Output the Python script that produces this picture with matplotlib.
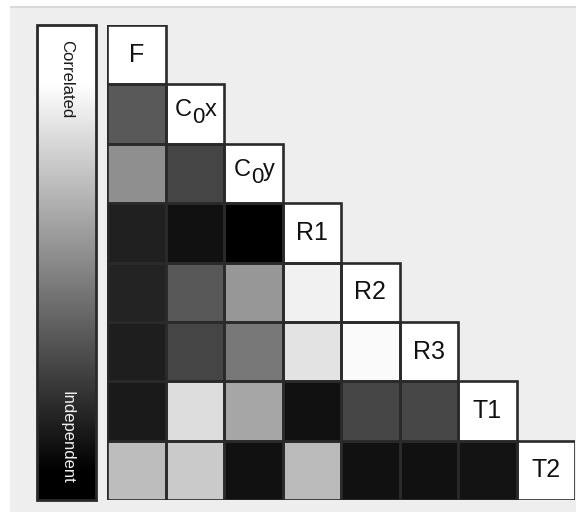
import numpy as np
import matplotlib
matplotlib.use("Agg")
import matplotlib.pyplot as plt
from matplotlib.colors import LinearSegmentedColormap, Normalize
from matplotlib.cm import ScalarMappable
from matplotlib.patches import Rectangle
from matplotlib.transforms import offset_copy

plt.rcParams['font.family'] = ['Liberation Sans', 'DejaVu Sans']

# Parameter names along the diagonal: (main text, subscript, trailing text)
labels = [("F", "", ""), ("C", "0", "x"), ("C", "0", "y"), ("R1", "", ""),
          ("R2", "", ""), ("R3", "", ""), ("T1", "", ""), ("T2", "", "")]

# Lower-triangle correlation shading (0 = correlated/black ... 1 = independent/white)
row_c0x = [0.35]
row_c0y = [0.56, 0.27]
row_r1 = [0.125, 0.067, 0.0]
row_r2 = [0.14, 0.34, 0.59, 0.945]
row_r3 = [0.12, 0.27, 0.47, 0.89, 0.98]
row_t1 = [0.105, 0.865, 0.65, 0.07, 0.275, 0.28]
row_t2 = [0.74, 0.79, 0.067, 0.73, 0.07, 0.07, 0.075]

bar_top_label = "Correlated"
bar_bottom_label = "Independent"

rows = [[], row_c0x, row_c0y, row_r1, row_r2, row_r3, row_t1, row_t2]
n = len(labels)

W, H = 576, 512
fig = plt.figure(figsize=(W / 100, H / 100), dpi=100, facecolor="white")

# panel background
fig.patches.append(Rectangle((10 / W, 0), 1 - 10 / W, 1 - 8 / H,
                             transform=fig.transFigure, facecolor="#eeeeee",
                             edgecolor="none", zorder=-10))
fig.patches.append(Rectangle((10 / W, 1 - 8 / H), 1 - 10 / W, 2 / H,
                             transform=fig.transFigure, facecolor="#d9d9d9",
                             edgecolor="none", zorder=-9))

top_px, bot_px = 25, 500
ax = fig.add_axes([107 / W, 1 - bot_px / H, (575 - 107) / W, (bot_px - top_px) / H])
ax.set_xlim(0, n)
ax.set_ylim(n, 0)
ax.axis("off")

grid = np.full((n, n), np.nan)
for i, r in enumerate(rows):
    for j, v in enumerate(r):
        grid[i, j] = v
    grid[i, i] = 1.0
masked = np.ma.masked_invalid(grid)
ax.pcolormesh(np.arange(n + 1), np.arange(n + 1), masked, cmap="gray",
              vmin=0, vmax=1, shading="flat")

edge = "#2a2a2a"
txt_color = "#111111"
fs = 18
# offsets (points) of the three label pieces from the cell centre
piece_dx = (-14.2, -1.7, 7.3)
piece_dy = (-1.6, -6.6, -1.6)
piece_fs = (fs - 1, fs - 2, fs - 1)

for i in range(n):
    for j in range(i + 1):
        ax.add_patch(Rectangle((j, i), 1, 1, facecolor="none", edgecolor=edge,
                               lw=1.9, zorder=3))
    main, sub, tail = labels[i]
    if not sub:
        ax.text(i + 0.5, i + 0.5, main, ha="center", va="center",
                fontsize=fs, color=txt_color, zorder=4)
    else:
        # main letter, a near full-size lowered subscript, then the trailing letter
        for piece, dx, dy, size in zip((main, sub, tail), piece_dx, piece_dy, piece_fs):
            tr = offset_copy(ax.transData, fig=fig, x=dx, y=dy, units="points")
            ax.text(i + 0.5, i + 0.5, piece, ha="left", va="baseline",
                    fontsize=size, color=txt_color, zorder=4, transform=tr)

# colour bar on the left
cmap = LinearSegmentedColormap.from_list(
    "bar", [(0.0, "black"), (0.06, "black"), (0.88, "white"), (1.0, "white")])
cax = fig.add_axes([37 / W, 1 - bot_px / H, (96 - 37) / W, (bot_px - top_px) / H])
cb = fig.colorbar(ScalarMappable(norm=Normalize(0, 1), cmap=cmap), cax=cax)
cb.set_ticks([])
cb.outline.set_edgecolor(edge)
cb.outline.set_linewidth(2.0)
cax.text(0.5, 1 - (79 - top_px) / (bot_px - top_px), bar_top_label,
         transform=cax.transAxes, rotation=-90, ha="center", va="center",
         fontsize=12, color="#1a1a1a")
cax.text(0.5, 1 - (437 - top_px) / (bot_px - top_px), bar_bottom_label,
         transform=cax.transAxes, rotation=-90, ha="center", va="center",
         fontsize=12, color="#f0f0f0")

fig.savefig("out.png", dpi=100, facecolor=fig.get_facecolor())
